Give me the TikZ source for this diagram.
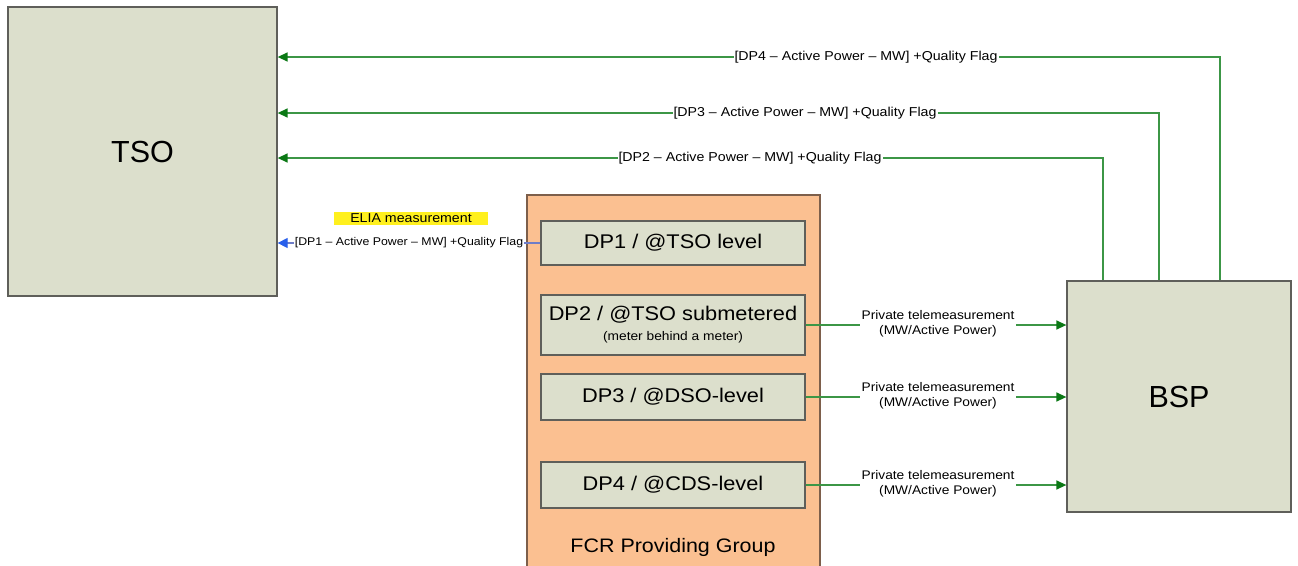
\documentclass[tikz,border=0pt]{standalone}
\usepackage{fontspec}
\setmainfont{Liberation Sans}
\newfontfamily\widefont[FakeStretch=1.1]{Liberation Sans}
\usetikzlibrary{arrows.meta}
\definecolor{boxfill}{RGB}{220,223,204}
\definecolor{boxdraw}{RGB}{95,95,90}
\definecolor{grpfill}{RGB}{251,192,145}
\definecolor{grpdraw}{RGB}{125,95,75}
\definecolor{lgreen}{RGB}{60,150,70}
\definecolor{agreen}{RGB}{10,120,20}
\definecolor{lblue}{RGB}{110,125,200}
\definecolor{ablue}{RGB}{40,95,235}
\definecolor{hl}{RGB}{255,240,30}
\begin{document}
\begin{tikzpicture}[x=1pt,y=-1pt,
  bigbox/.style={draw=boxdraw,line width=1.3pt,fill=boxfill,inner sep=0pt,font=\fontsize{30.5}{33}\selectfont},
  dpbox/.style={draw=boxdraw,line width=1.2pt,fill=boxfill,inner sep=0pt,minimum width=264pt,font=\widefont\fontsize{19.8}{22}\selectfont},
  grp/.style={draw=grpdraw,line width=1.2pt,fill=grpfill,inner sep=0pt},
  gline/.style={draw=lgreen,line width=1.4pt,-{Triangle[length=10pt,width=9pt,fill=agreen,color=agreen]}},
  bline/.style={draw=lblue,line width=1.3pt,-{Triangle[length=10pt,width=10pt,fill=ablue,color=ablue]}},
  lbl/.style={fill=white,inner xsep=1pt,inner ysep=1pt,font=\widefont\fontsize{12.9}{14}\selectfont},
  plbl/.style={fill=white,inner xsep=2pt,inner ysep=0pt,align=center,font=\widefont\fontsize{12.5}{15}\selectfont},
]
\useasboundingbox[fill=white] (0,0) rectangle (1298,565);
% main boxes
\node[bigbox,minimum width=269pt,minimum height=289pt] (tso) at (142.5,151.5) {TSO};
\node[bigbox,minimum width=224pt,minimum height=231pt] (bsp) at (1179,396.5) {BSP};
% FCR group
\node[grp,minimum width=293pt,minimum height=390pt] (grp) at (673.5,390) {};
\node[font=\widefont\fontsize{19.5}{21}\selectfont] (grplbl) at (673,547) {FCR Providing Group};
\node[dpbox,minimum height=44pt] (dp1) at (673,243) {DP1 / @TSO level};
\node[dpbox,minimum height=60pt,align=center] (dp2) at (673,325) {DP2 / @TSO submetered\\[-2pt]{\fontsize{12.5}{13}\selectfont (meter behind a meter)}};
\node[dpbox,minimum height=46pt] (dp3) at (673,397) {DP3 / @DSO-level};
\node[dpbox,minimum height=46pt] (dp4) at (673,485) {DP4 / @CDS-level};
% top feedback lines BSP -> TSO
\coordinate (c4) at (1220,57);
\coordinate (c3) at (1159,113);
\coordinate (c2) at (1103,158);
\draw[gline] (bsp.north -| c4) -- (c4) -- (tso.east |- c4);
\draw[gline] (bsp.north -| c3) -- (c3) -- (tso.east |- c3);
\draw[gline] (bsp.north -| c2) -- (c2) -- (tso.east |- c2);
\node[lbl] (l4) at (866,57) {[DP4 – Active Power – MW] +Quality Flag};
\node[lbl] (l3) at (805,113) {[DP3 – Active Power – MW] +Quality Flag};
\node[lbl] (l2) at (750,158) {[DP2 – Active Power – MW] +Quality Flag};
% DP1 -> TSO
\draw[bline] (dp1.west) -- (tso.east |- dp1.west);
\node[lbl,font=\widefont\fontsize{11.2}{12}\selectfont] (l1) at (409,243) {[DP1 – Active Power – MW] +Quality Flag};
\node[fill=hl,inner xsep=16pt,inner ysep=2pt,font=\widefont\fontsize{12.9}{14}\selectfont] (elia) at (411,218) {ELIA measurement};
% private telemeasurements
\draw[gline] (dp2.east) -- (bsp.west |- dp2.east);
\draw[gline] (dp3.east) -- (bsp.west |- dp3.east);
\draw[gline] (dp4.east) -- (bsp.west |- dp4.east);
\node[plbl] (p2) at (938,324) {Private telemeasurement\\(MW/Active Power)};
\node[plbl] (p3) at (938,396) {Private telemeasurement\\(MW/Active Power)};
\node[plbl] (p4) at (938,484) {Private telemeasurement\\(MW/Active Power)};
\end{tikzpicture}
\end{document}
